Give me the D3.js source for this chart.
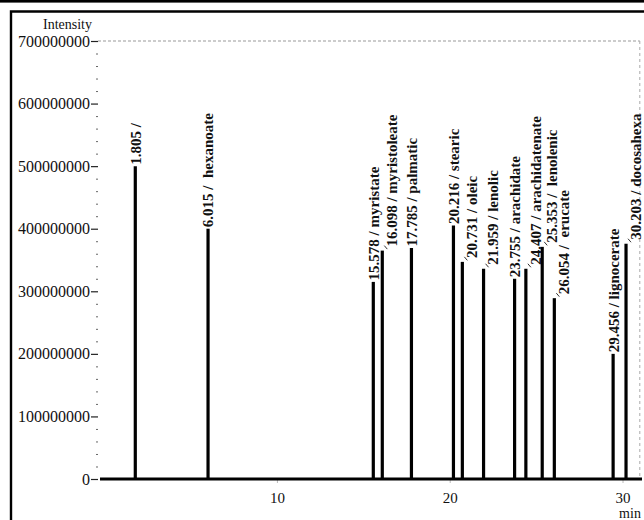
<!DOCTYPE html>
<html><head><meta charset="utf-8">
<script src="https://cdn.jsdelivr.net/npm/d3@7"></script>
<style>
body{margin:0;background:#fff}
svg{display:block}
text{font-family:"Liberation Serif","Times New Roman",serif;fill:#111}
</style>
</head><body>
<svg id="c" width="644" height="520"></svg>
<script>
// ---- data ----
const retentionTimes = [1.805, 6.015, 15.578, 16.098, 17.785, 20.216, 20.731, 21.959, 23.755, 24.407, 25.353, 26.054, 29.456, 30.203];
const compoundNames  = ["", " hexanoate", "myristate", "myristoleate", "palmatic", "stearic", "oleic", "lenolic", "arachidate", "arachidatenate", " lenolenic", " erucate", "lignocerate", "docosahexa"];
const intensities    = [500000000, 400000000, 315000000, 365000000, 369000000, 405000000, 347000000, 336000000, 320000000, 336000000, 371000000, 289000000, 200000000, 376000000];
const yTickValues = [0, 100000000, 200000000, 300000000, 400000000, 500000000, 600000000, 700000000];
const xTickValues = [10, 20, 30];
const yAxisTitle = "Intensity";
const xAxisTitle = "min";

// ---- chart ----
const svg = d3.select("#c");
const x = d3.scaleLinear().domain([0, 31]).range([104.1, 639.8]);
const y = d3.scaleLinear().domain([0, 700000000]).range([479, 41]);

// frame
svg.append("rect").attr("x", 0).attr("y", 0).attr("width", 644).attr("height", 2.6).attr("fill", "#000");
svg.append("path").attr("d", "M11,521V11.5H645").attr("fill", "none").attr("stroke", "#000").attr("stroke-width", 2.4);

// dotted top and right borders of plot area
svg.append("line").attr("x1", 98).attr("x2", x(31)).attr("y1", y(700000000)).attr("y2", y(700000000))
  .attr("stroke", "#999").attr("stroke-width", 1).attr("stroke-dasharray", "3,2");
svg.append("line").attr("x1", x(31)).attr("x2", x(31)).attr("y1", y(700000000)).attr("y2", y(0))
  .attr("stroke", "#aaa").attr("stroke-width", 1).attr("stroke-dasharray", "3,3");

// minor y ticks
const minorVals = d3.range(0, 700000001, 20000000).filter(v => v % 100000000 !== 0);
const yMinor = svg.append("g").attr("transform", "translate(98,0)")
  .call(d3.axisLeft(y).tickValues(minorVals).tickSize(2).tickFormat(""));
yMinor.select(".domain").remove();
yMinor.selectAll("line").attr("stroke", "#666").attr("stroke-width", 1);

// major y ticks
const yAx = svg.append("g").attr("transform", "translate(98,0)")
  .call(d3.axisLeft(y).tickValues(yTickValues).tickSize(7).tickPadding(1).tickFormat(d3.format("d")));
yAx.select(".domain").remove();
yAx.selectAll("line").attr("stroke", "#222").attr("stroke-width", 1.2);
yAx.selectAll("text").attr("font-size", 16).attr("font-family", "Liberation Serif").attr("fill", "#111");

svg.append("text").attr("x", 92).attr("y", 29).attr("text-anchor", "end")
  .attr("font-size", 14).text(yAxisTitle);

// x axis
const xAx = svg.append("g").attr("transform", "translate(0,479)")
  .call(d3.axisBottom(x).tickValues(xTickValues).tickSize(4).tickPadding(9).tickFormat(d3.format("d")));
xAx.select(".domain").remove();
xAx.selectAll("line").attr("stroke", "#bbb").attr("stroke-width", 1);
xAx.selectAll("text").attr("font-size", 15).attr("font-family", "Liberation Serif").attr("fill", "#111");
svg.append("line").attr("x1", 100).attr("x2", 642).attr("y1", y(0)).attr("y2", y(0))
  .attr("stroke", "#000").attr("stroke-width", 3);
svg.append("text").attr("x", 630).attr("y", 518).attr("text-anchor", "middle")
  .attr("font-size", 14).text(xAxisTitle);

// peaks
const peaks = retentionTimes.map((t, i) => ({ t, name: compoundNames[i], v: intensities[i] }));
peaks.forEach((p, i) => {
  p.px = x(p.t);
  p.top = y(p.v);
  p.shift = i > 0 && (p.px - x(retentionTimes[i - 1])) < 25;
});

svg.append("g").selectAll("line.peak").data(peaks).join("line")
  .attr("class", "peak")
  .attr("x1", d => d.px).attr("x2", d => d.px)
  .attr("y1", y(0)).attr("y2", d => d.top)
  .attr("stroke", "#000").attr("stroke-width", 3.2);

// leader ticks
svg.append("g").selectAll("line").data(peaks.filter(d => d.shift)).join("line")
  .attr("x1", d => d.px + 2).attr("y1", d => d.top - 5)
  .attr("x2", d => d.px + 5).attr("y2", d => d.top - 1.5)
  .attr("stroke", "#333").attr("stroke-width", 1);

// labels
svg.append("g").selectAll("text").data(peaks).join("text")
  .attr("transform", d => `translate(${d.shift ? d.px + 9.5 : d.px},${d.shift ? d.top - 4 : d.top - 1.5}) rotate(-90)`)
  .attr("dy", "0.36em")
  .attr("font-size", 15).attr("font-weight", "bold")
  .style("white-space", "pre")
  .text(d => `${d.t.toFixed(3)} / ${d.name}`);
</script>
</body></html>
